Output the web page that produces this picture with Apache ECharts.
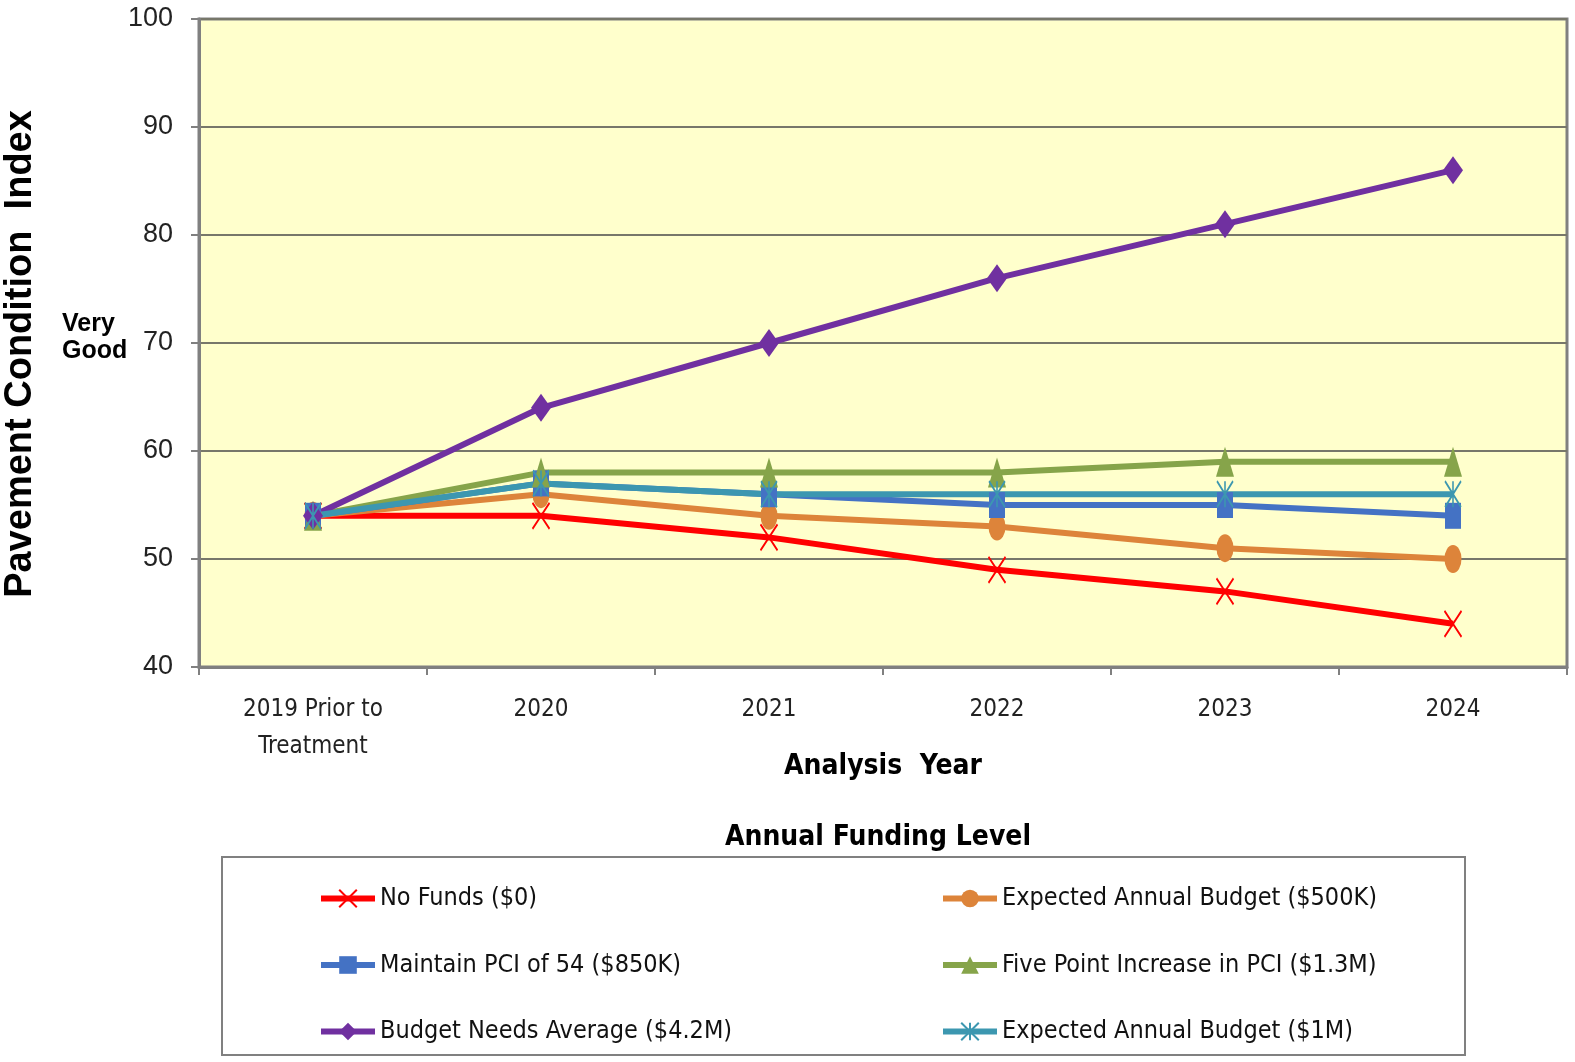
<!DOCTYPE html>
<html>
<head>
<meta charset="utf-8">
<script src="https://cdn.jsdelivr.net/npm/echarts@6/dist/echarts.min.js"></script>
<style>
  html, body { margin: 0; padding: 0; background: #fff; }
  #pci { width: 1575px; height: 1062px; }
</style>
</head>
<body>
<div id="pci"></div>
<script>
// x axis categories
var years = ['2019 Prior to\nTreatment', '2020', '2021', '2022', '2023', '2024'];

// PCI by funding level
var noFunds = [54, 54, 52, 49, 47, 44];
var budget500k = [54, 56, 54, 53, 51, 50];
var maintain54 = [54, 57, 56, 55, 55, 54];
var fivePoint = [54, 58, 58, 58, 59, 59];
var needsAvg = [54, 64, 70, 76, 81, 86];
var budget1m = [54, 57, 56, 56, 56, 56];

var names = [
  'No Funds ($0)',
  'Expected Annual Budget ($500K)',
  'Maintain PCI of 54 ($850K)',
  'Five Point Increase in PCI ($1.3M)',
  'Budget Needs Average ($4.2M)',
  'Expected Annual Budget ($1M)'
];

var narrow = "'DejaVu Sans Condensed', 'Liberation Sans Narrow', sans-serif";
var wide = "'Liberation Sans', Arial, sans-serif";

var xMark = 'path://M0,0L10,10M10,0L0,10';
var starMark = 'path://M0,0L10,10M10,0L0,10M5,0L5,10';

function serie(name, data, color, symbol, size, stroked) {
  return {
    name: name,
    type: 'line',
    data: data,
    symbol: symbol,
    symbolSize: size,
    lineStyle: { color: color, width: 6 },
    itemStyle: stroked
      ? { color: color, borderColor: color, borderWidth: 2 }
      : { color: color, borderWidth: 0 },
    emphasis: { disabled: true }
  };
}

var legendText = { fontFamily: narrow, fontSize: 25, color: '#111', lineHeight: 22 };

var myChart = echarts.init(document.getElementById('pci'));
myChart.setOption({
  animation: false,
  backgroundColor: '#fff',
  grid: {
    left: 199, right: 8, top: 19, bottom: 395,
    show: true,
    backgroundColor: '#FFFFCC',
    borderColor: '#808080',
    borderWidth: 3
  },
  xAxis: {
    type: 'category',
    data: years,
    boundaryGap: true,
    name: 'Analysis  Year',
    nameLocation: 'middle',
    nameGap: 86,
    nameMoveOverlap: false,
    nameTextStyle: { fontFamily: narrow, fontWeight: 'bold', fontSize: 28, color: '#000' },
    axisLine: { lineStyle: { color: '#808080', width: 3 } },
    axisTick: { show: true, length: 8, lineStyle: { color: '#808080', width: 2 } },
    axisLabel: {
      fontFamily: narrow, fontSize: 24, color: '#222', margin: 24, lineHeight: 37
    }
  },
  yAxis: {
    type: 'value',
    min: 40, max: 100, interval: 10,
    axisLine: { show: true, lineStyle: { color: '#808080', width: 3 } },
    axisTick: { show: true, length: 8, lineStyle: { color: '#808080', width: 2 } },
    axisLabel: { fontFamily: wide, fontSize: 27, color: '#222', margin: 26 },
    splitLine: { lineStyle: { color: '#77776a', width: 2 } }
  },
  legend: [
    {
      orient: 'vertical', left: 313, top: 881, height: 180,
      itemWidth: 54, itemHeight: 22, itemGap: 41.5,
      lineStyle: { width: 6 },
      data: [names[0], names[2], names[4]],
      textStyle: legendText
    },
    {
      orient: 'vertical', left: 935, top: 881, height: 180,
      itemWidth: 54, itemHeight: 22, itemGap: 41.5,
      lineStyle: { width: 6 },
      data: [names[1], names[3], names[5]],
      textStyle: legendText
    }
  ],
  graphic: [
    {
      type: 'text', x: 21, y: 354, rotation: Math.PI / 2,
      style: {
        text: 'Pavement Condition  Index', fill: '#000',
        font: 'bold 38px ' + wide, align: 'center', verticalAlign: 'middle'
      }
    },
    {
      type: 'text', x: 62, y: 311,
      style: {
        text: 'Very\nGood', fill: '#000', lineHeight: 27,
        font: 'bold 25px ' + wide, align: 'left'
      }
    },
    {
      type: 'text', x: 878, y: 838,
      style: {
        text: 'Annual Funding Level', fill: '#000',
        font: 'bold 28px ' + narrow, align: 'center', verticalAlign: 'middle'
      }
    },
    {
      type: 'rect', shape: { x: 222, y: 857, width: 1243, height: 198 },
      style: { fill: 'none', stroke: '#808080', lineWidth: 2 }
    }
  ],
  series: [
    serie(names[0], noFunds, '#FF0000', xMark, [17, 26], true),
    serie(names[1], budget500k, '#DD843A', 'circle', [17, 28], false),
    serie(names[2], maintain54, '#4472C4', 'rect', [16, 26], false),
    serie(names[3], fivePoint, '#86A44A', 'triangle', [18, 30], false),
    serie(names[4], needsAvg, '#7030A0', 'diamond', [20, 28], false),
    serie(names[5], budget1m, '#3C97B0', starMark, [16, 26], true)
  ]
});
</script>
</body>
</html>
